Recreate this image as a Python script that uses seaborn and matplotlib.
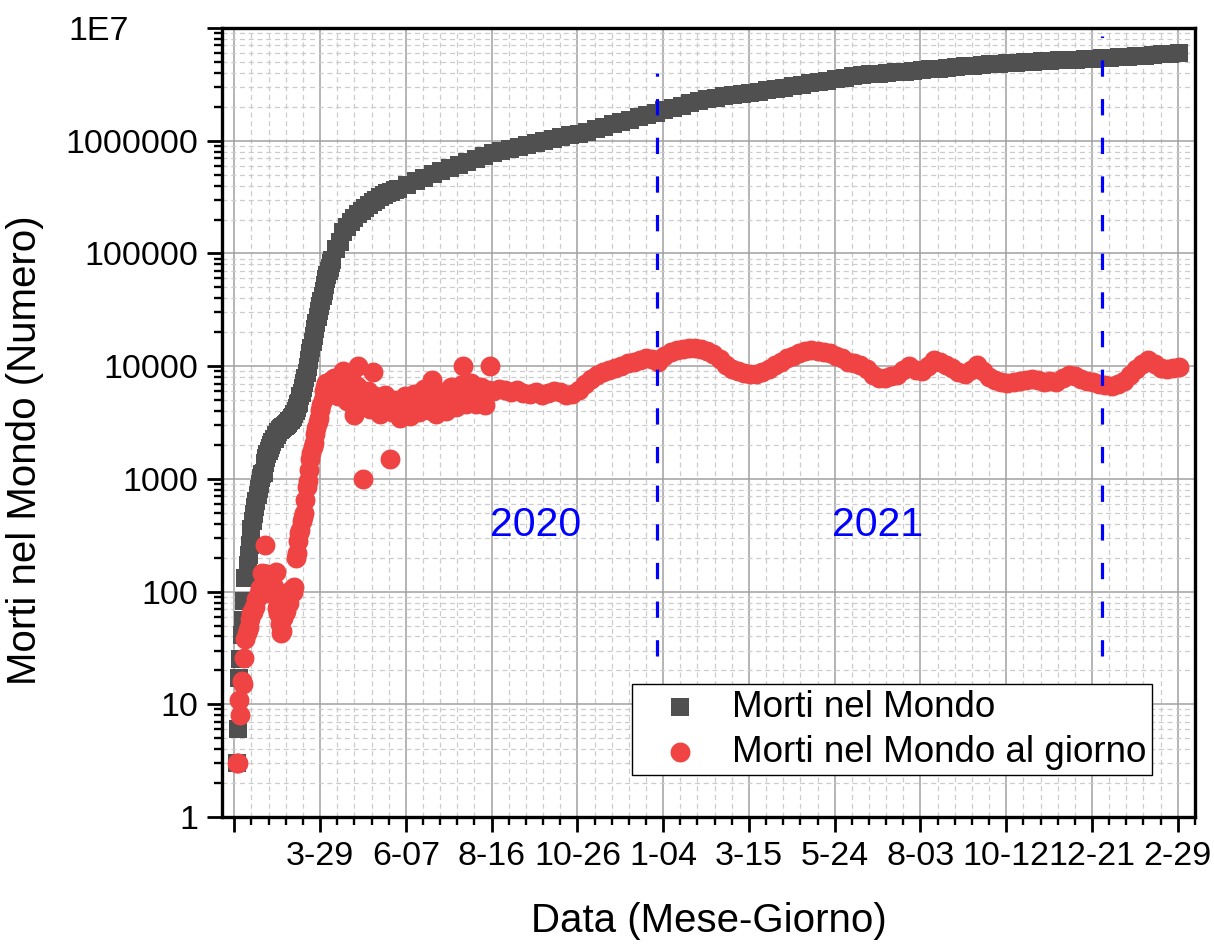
import numpy as np
import pandas as pd
import matplotlib
matplotlib.use("Agg")
import matplotlib.pyplot as plt
import seaborn as sns
from matplotlib.ticker import FixedLocator, NullFormatter
from matplotlib.transforms import ScaledTranslation

# DATA (day index since start of series)

# cumulative deaths: daily at the start, then every 3 days, then weekly
cum_days = list(range(2, 81)) + list(range(83, 135, 3)) + list(range(141, 772, 7))
cum_vals = [
    3, 6, 17, 25, 41, 56, 82, 131, 133, 171,
    213, 259, 362, 426, 492, 564, 634, 719, 806, 906,
    1013, 1113, 1118, 1371, 1523, 1666, 1770, 1868, 2007, 2122,
    2247, 2251, 2458, 2469, 2629, 2708, 2770, 2814, 2872, 2941,
    2996, 3085, 3160, 3254, 3348, 3460, 3558, 3802, 3988, 4262,
    4615, 4720, 5404, 5819, 6440, 7126, 7905, 8733, 9867, 11299,
    12973, 14623, 16497, 18615, 21181, 23970, 27198, 30652, 33925, 37582,
    42107, 46809, 52983, 58787, 64606, 69374, 74565, 81865, 88338,
    # every 3 days
    108500, 126000, 153800, 170000, 190900, 206500, 224200, 239700, 254400,
    271400, 284000, 301000, 314000, 328000, 341000, 350000, 364000, 375000,
    # weekly
    405000, 437000, 470000, 505000, 537000, 570000, 608000, 648000, 690000, 730000,
    775000, 810000, 850000, 887000, 926000, 962000, 1000000, 1040000, 1078000, 1118000,
    1157000, 1206000, 1262000, 1328000, 1399000, 1468000, 1541000, 1617000, 1695000, 1771000,
    1856000, 1950000, 2045000, 2148000, 2240000, 2330000, 2412000, 2480000, 2536000, 2593000,
    2660000, 2725000, 2793000, 2866000, 2950000, 3036000, 3129000, 3226000, 3325000, 3415000,
    3500000, 3571000, 3740000, 3828000, 3880000, 3935000, 3985000, 4040000, 4100000, 4160000,
    4230000, 4300000, 4370000, 4440000, 4510000, 4580000, 4650000, 4715000, 4775000, 4830000,
    4876000, 4920000, 4965000, 5005000, 5058000, 5108000, 5158000, 5203000, 5255000, 5310000,
    5360000, 5400000, 5450000, 5500000, 5555000, 5615000, 5680000, 5755000, 5830000, 5900000,
    5965000,
]

# daily deaths: daily at the start, every 2 days in the noisy part, then every 5 days
daily_days = list(range(2, 102)) + list(range(103, 210, 2)) + list(range(211, 772, 5))
daily_vals = [
    # days 2-47
    3, 3, 11, 8, 16, 15, 26, 38, 43, 46,
    49, 57, 64, 66, 73, 73, 86, 89, 97, 108,
    97, 146, 121, 260, 143, 142, 106, 98, 136, 118,
    109, 97, 150, 71, 64, 52, 43, 45, 58, 65,
    67, 84, 96, 80, 104, 100,
    # days 48-75
    100, 110, 200, 220, 280, 330, 350, 420, 460, 500,
    650, 850, 950, 1200, 1500, 1700, 1900, 2100, 2500, 2800,
    3200, 3500, 4100, 4500, 5000, 6000, 6500, 7100,
    # days 76-101
    6300, 5800, 6200, 7400, 7600, 7900, 7300, 6000, 5600, 5400,
    6500, 8200, 8500, 9000, 5700, 5600, 4900, 6600, 6500, 7800,
    6300, 5700, 3700, 4600, 6700, 10000,
    # days 103-209 (odd)
    6200, 1000, 5800, 6000, 4200, 8900, 5400, 5100, 3800, 4100,
    5600, 5200, 1500, 3900, 5000, 4500, 3500, 4300, 5400, 4800,
    3600, 4600, 5700, 5100, 3900, 4800, 6300, 5200, 4100, 7600,
    5300, 3800, 4900, 5900, 5400, 4000, 5200, 6500, 5900, 4300,
    5700, 6800, 10000, 4600, 6000, 7100, 6000, 4600, 5800, 6600,
    5800, 4500, 6200, 10000,
    # days 211-771 (every 5)
    6000, 6300, 6100, 5900, 6100, 5800, 5700, 5900, 5600, 5800,
    6000, 5900, 5600, 5700, 6100, 6900, 7700, 8400, 8900, 9300,
    9700, 10100, 10600, 10900, 11300, 11900, 11500, 10800, 12400, 13300,
    13900, 14300, 14500, 14600, 14300, 13600, 12800, 11500, 10200, 9500,
    9000, 8700, 8500, 8600, 8900, 9500, 10200, 11000, 11800, 12400,
    13100, 13700, 13900, 13600, 13400, 13000, 12400, 11700, 10900, 10600,
    10300, 9400, 8400, 7900, 7800, 8100, 8400, 9200, 10100, 9300,
    9000, 10100, 11400, 11000, 10300, 9600, 8800, 8600, 9300, 10300,
    9100, 8000, 7600, 7300, 7100, 7200, 7400, 7500, 7700, 7600,
    7300, 7400, 7300, 7800, 8400, 8200, 7700, 7400, 7200, 6900,
    6800, 6700, 6900, 7400, 8400, 9400, 10500, 11300, 10400, 9600,
    9500, 9700, 9800,
]

tick_days = [0, 70, 140, 210, 280, 350, 420, 490, 560, 630, 700, 770]
tick_labels = ["", "3-29", "6-07", "8-16", "10-26", "1-04", "3-15",
               "5-24", "8-03", "10-12", "12-21", "2-29"]

y_ticks = [1, 10, 100, 1000, 10000, 100000, 1000000, 10000000]
y_labels = ["1", "10", "100", "1000", "10000", "100000", "1000000", "1E7"]

year_lines = [345, 708]
year_tops = [4.0e6, 8.5e6]
year_texts = ["2020", "2021"]
year_text_days = [246, 525]

cum_df = pd.DataFrame({"day": cum_days, "deaths": cum_vals})
daily_df = pd.DataFrame({"day": daily_days, "deaths": daily_vals})

# STYLE

sns.set_theme(style="ticks")
plt.rcParams["font.family"] = ["Liberation Sans", "DejaVu Sans"]
plt.rcParams["text.color"] = "black"
plt.rcParams["axes.labelcolor"] = "black"
plt.rcParams["xtick.color"] = "black"
plt.rcParams["ytick.color"] = "black"

fig = plt.figure(figsize=(12.14, 9.44), dpi=100)
ax = fig.add_axes([0.1829, 0.1345, 0.8014, 0.8358])

ax.set_yscale("log")

# PLOT

sns.scatterplot(data=cum_df, x="day", y="deaths", marker="s", s=165,
                color="#505050", linewidth=0, label="Morti nel Mondo",
                ax=ax, zorder=3)
sns.scatterplot(data=daily_df, x="day", y="deaths", marker="o", s=205,
                color="#F04343", linewidth=0, label="Morti nel Mondo al giorno",
                ax=ax, zorder=4)

# year separators, dashes start at the bottom end
for xd, top in zip(year_lines, year_tops):
    ax.plot([xd, xd], [27, top], color="#0000FF", lw=2.3,
            linestyle=(0, (5.1, 7.0)), zorder=5)

for txt, xd in zip(year_texts, year_text_days):
    ax.text(xd, 390, txt, color="#0000FF", fontsize=29.5,
            ha="center", va="center", zorder=5)

# AXES

ax.set_xlim(-10, 784)
ax.set_ylim(1, 1e7)

ax.set_xticks(tick_days)
ax.set_xticklabels(tick_labels)
ax.xaxis.set_minor_locator(FixedLocator(np.arange(-14, 785, 14)))
ax.set_yticks(y_ticks)
ax.set_yticklabels(y_labels)
ax.yaxis.set_minor_locator(FixedLocator(
    [m * 10 ** e for e in range(0, 7) for m in range(2, 10)]))
ax.yaxis.set_minor_formatter(NullFormatter())

ax.tick_params(axis="both", which="major", direction="out", length=11,
               width=2.0, labelsize=24.5, labelcolor="black", color="black", pad=6)
ax.tick_params(axis="both", which="minor", direction="out", length=5.5,
               width=1.7, color="black")
ax.tick_params(top=False, right=False, which="both")

for sp in ax.spines.values():
    sp.set_linewidth(2.4)
    sp.set_color("black")

ax.grid(which="major", color="#a0a0a0", lw=1.1, ls="-")
ax.grid(which="minor", color="#cccccc", lw=0.9, ls=(0, (4, 3)))
ax.set_axisbelow(True)

ax.set_xlabel("Data (Mese-Giorno)", fontsize=29, labelpad=22, color="black")
ax.set_ylabel("Morti nel Mondo (Numero)", fontsize=29, color="black")
ax.yaxis.set_label_coords(-0.183, 0.465)

# "1E7" is left-aligned with the widest label in the reference
lbl = ax.get_yticklabels()[-1]
lbl.set_horizontalalignment("left")
lbl.set_transform(lbl.get_transform() + ScaledTranslation(-1.3, 0, fig.dpi_scale_trans))

leg = ax.legend(loc="lower left", bbox_to_anchor=(0.4214, 0.0532),
                frameon=True, fancybox=False, framealpha=1, edgecolor="black",
                fontsize=26.5, handlelength=2.3, handletextpad=0.28,
                borderpad=0.15, labelspacing=0.27, borderaxespad=0)
leg.get_frame().set_linewidth(1.0)
for t in leg.get_texts():
    t.set_color("black")

fig.savefig("out.png", dpi=100)
